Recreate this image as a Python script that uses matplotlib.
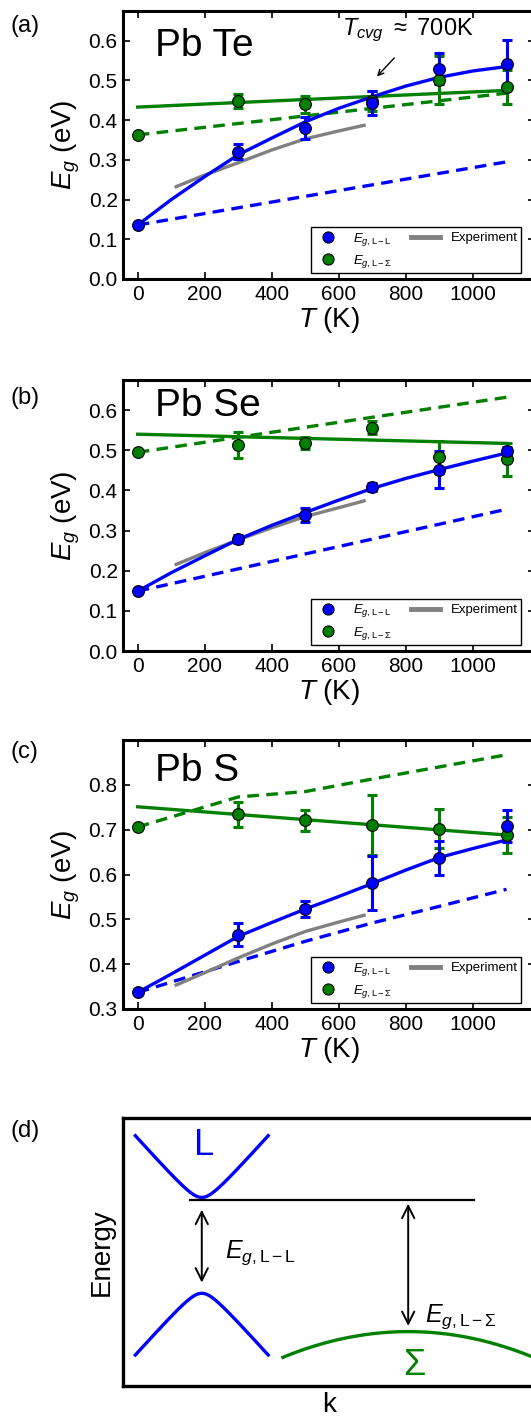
import numpy as np
import matplotlib
matplotlib.use("Agg")
import matplotlib.pyplot as plt
from matplotlib.lines import Line2D

plt.rcParams['font.family'] = ['Liberation Sans', 'DejaVu Sans']
plt.rcParams['mathtext.fontset'] = 'custom'
plt.rcParams['mathtext.rm'] = 'Liberation Sans'
plt.rcParams['mathtext.it'] = 'Liberation Sans:italic'

BLUE = '#0000ff'
GREEN = '#008000'
GRAY = '#808080'

# temperatures of the computed points (K)
T_pts = [0, 300, 500, 700, 900, 1100]
# fit-curve temperatures
T_fit = [0, 100, 200, 300, 400, 500, 600, 700, 800, 900, 1000, 1100]
T_lin = [0, 1100]
T_exp = [110, 200, 300, 400, 500, 600, 680]

# ---- PbTe ----
te_LL = [0.136, 0.321, 0.381, 0.443, 0.530, 0.541]
te_LL_err = [0.0, 0.02, 0.028, 0.03, 0.04, 0.06]
te_LS = [0.363, 0.448, 0.440, 0.449, 0.501, 0.484]
te_LS_err = [0.0, 0.017, 0.022, 0.025, 0.06, 0.043]
te_LL_fit = [0.136, 0.200, 0.258, 0.313, 0.355, 0.396, 0.430, 0.459, 0.486, 0.508, 0.524, 0.535]
te_LS_fit = [0.433, 0.475]
te_LL_dash = [0.136, 0.295]
te_LS_dash = [0.363, 0.468]
te_exp = [0.231, 0.262, 0.293, 0.325, 0.353, 0.373, 0.388]

# ---- PbSe ----
se_LL = [0.149, 0.278, 0.338, 0.408, 0.452, 0.498]
se_LL_err = [0.0, 0.01, 0.017, 0.01, 0.045, 0.01]
se_LS = [0.495, 0.513, 0.518, 0.556, 0.483, 0.477]
se_LS_err = [0.0, 0.032, 0.016, 0.016, 0.04, 0.04]
se_LL_fit = [0.149, 0.195, 0.237, 0.278, 0.313, 0.345, 0.376, 0.405, 0.430, 0.452, 0.473, 0.493]
se_LS_fit = [0.540, 0.517]
se_LL_dash = [0.149, 0.353]
se_LS_dash = [0.495, 0.632]
se_exp = [0.214, 0.245, 0.277, 0.307, 0.335, 0.357, 0.375]

# ---- PbS ----
s_LL = [0.337, 0.466, 0.523, 0.581, 0.637, 0.708]
s_LL_err = [0.0, 0.025, 0.017, 0.061, 0.038, 0.035]
s_LS = [0.706, 0.734, 0.721, 0.711, 0.702, 0.688]
s_LS_err = [0.0, 0.027, 0.023, 0.067, 0.043, 0.04]
s_LL_fit = [0.337, 0.378, 0.420, 0.462, 0.493, 0.523, 0.551, 0.580, 0.610, 0.638, 0.658, 0.677]
s_LS_fit = [0.751, 0.688]
T_sdash = [0, 300, 500, 700, 900, 1100]
s_LL_dash = [0.337, 0.406, 0.451, 0.492, 0.529, 0.567]
s_LS_dash = [0.706, 0.773, 0.785, 0.813, 0.840, 0.867]
s_exp = [0.352, 0.381, 0.414, 0.445, 0.473, 0.494, 0.510]

panels = [
    dict(tag='(a)', name='Pb Te', LL=te_LL, LLe=te_LL_err, LS=te_LS, LSe=te_LS_err,
         LLfit=(T_fit, te_LL_fit), LSfit=(T_lin, te_LS_fit),
         LLdash=(T_lin, te_LL_dash), LSdash=(T_lin, te_LS_dash), exp=te_exp,
         ylim=(0.0, 0.675), yticks=np.arange(0.0, 0.61, 0.1), box=(11, 279),
         name_y=0.935, tag_y=15),
    dict(tag='(b)', name='Pb Se', LL=se_LL, LLe=se_LL_err, LS=se_LS, LSe=se_LS_err,
         LLfit=(T_fit, se_LL_fit), LSfit=(T_lin, se_LS_fit),
         LLdash=(T_lin, se_LL_dash), LSdash=(T_lin, se_LS_dash), exp=se_exp,
         ylim=(0.0, 0.675), yticks=np.arange(0.0, 0.61, 0.1), box=(380, 651),
         name_y=0.97, tag_y=387),
    dict(tag='(c)', name='Pb S', LL=s_LL, LLe=s_LL_err, LS=s_LS, LSe=s_LS_err,
         LLfit=(T_fit, s_LL_fit), LSfit=(T_lin, s_LS_fit),
         LLdash=(T_sdash, s_LL_dash), LSdash=(T_sdash, s_LS_dash), exp=s_exp,
         ylim=(0.3, 0.9), yticks=np.arange(0.3, 0.81, 0.1), box=(740, 1009),
         name_y=0.95, tag_y=741),
]

W, H = 531, 1418
fig = plt.figure(figsize=(W / 100, H / 100), dpi=100)
AX_LEFT = 123.3 / W
AX_W = (535 - 123.3) / W

lw = 2.4
dash = (0, (3.5, 2.2))

for p in panels:
    top, bot = p['box']
    ax = fig.add_axes([AX_LEFT, 1 - bot / H, AX_W, (bot - top) / H])
    ax.plot(*p['LLdash'], color=BLUE, lw=lw, ls=dash)
    ax.plot(*p['LSdash'], color=GREEN, lw=lw, ls=dash)
    ax.plot(T_exp, p['exp'], color=GRAY, lw=lw, solid_capstyle='butt')
    ax.plot(*p['LSfit'], color=GREEN, lw=lw)
    ax.plot(*p['LLfit'], color=BLUE, lw=lw)
    ax.errorbar(T_pts, p['LS'], yerr=p['LSe'], fmt='none', ecolor=GREEN,
                elinewidth=2.2, capsize=3.5, capthick=2.2)
    ax.errorbar(T_pts, p['LL'], yerr=p['LLe'], fmt='none', ecolor=BLUE,
                elinewidth=2.2, capsize=3.5, capthick=2.2)
    ax.plot(T_pts, p['LS'], 'o', color=GREEN, mec='k', mew=0.8, ms=8.5, zorder=5)
    ax.plot(T_pts, p['LL'], 'o', color=BLUE, mec='k', mew=0.8, ms=8.5, zorder=5)

    ax.set_xlim(-43, 1185)
    ax.set_ylim(*p['ylim'])
    ax.set_xticks([0, 200, 400, 600, 800, 1000])
    ax.set_yticks(p['yticks'])
    ax.set_yticklabels(['%.1f' % v for v in p['yticks']])
    ax.tick_params(direction='in', top=True, right=True, length=5, width=1.2,
                   labelsize=15, pad=4)
    for s in ax.spines.values():
        s.set_linewidth(2.2)
    ax.set_xlabel(r'$T$ (K)', fontsize=20, labelpad=1)
    ax.set_ylabel(r'$E_g$ (eV)', fontsize=20, labelpad=5)
    ax.text(0.078, p['name_y'], p['name'], transform=ax.transAxes,
            fontsize=28, va='top', ha='left')
    fig.text(10 / W, 1 - p['tag_y'] / H, p['tag'], fontsize=17, va='top', ha='left')

    hands = [Line2D([], [], ls='none', marker='o', color=BLUE, mec='k', mew=0.8, ms=8),
             Line2D([], [], ls='none', marker='o', color=GREEN, mec='k', mew=0.8, ms=8),
             Line2D([], [], color=GRAY, lw=3.5)]
    labs = [r'$E_{g\mathrm{,L-L}}$', r'$E_{g\mathrm{,L-\Sigma}}$', 'Experiment']
    leg = ax.legend(hands, labs, ncol=2, loc='lower right',
                    bbox_to_anchor=(0.966, 0.022), borderaxespad=0,
                    fontsize=9.5, fancybox=False, framealpha=1, edgecolor='k',
                    handlelength=2.2, columnspacing=1.4, handletextpad=0.8,
                    borderpad=0.25, labelspacing=0.4)
    leg.get_frame().set_linewidth(1.0)

    if p['tag'] == '(a)':
        ax.annotate('', xy=(708, 0.505), xytext=(771, 0.562),
                    arrowprops=dict(arrowstyle='->', color='k', lw=1.0))
        ax.text(610, 0.615, r'$T_{cvg}$ $\approx$ 700K', fontsize=17,
                ha='left', va='baseline')

# ---- (d) band schematic, arbitrary units ----
k_L = 0.1906          # L valley position
Ec_L = 0.7036         # L conduction minimum
Ev_L = 0.346          # L valence maximum
dk_L = 0.1614         # half width of L bands
band_d = 0.05         # rounding of L bands
band_s = 1.709        # slope of L bands
k_S = 0.692           # Sigma valley position
Ev_S = 0.203          # Sigma valence maximum
k_S_start = 0.3877
curv_S = 1.037
ref_k = (0.163, 0.852)   # reference level extent
ref_E = 0.6936
arrow1_E = (0.6575, 0.386)
arrow2_E = (0.680, 0.224)

top, bot = 1118, 1386
axd = fig.add_axes([AX_LEFT, 1 - bot / H, AX_W, (bot - top) / H])
axd.set_xlim(0, 1)
axd.set_ylim(0, 1)
axd.set_xticks([])
axd.set_yticks([])
for s in axd.spines.values():
    s.set_linewidth(2.4)

kk = np.linspace(k_L - dk_L, k_L + dk_L, 200)
shape = np.sqrt(band_d ** 2 + (band_s * (kk - k_L)) ** 2) - band_d
axd.plot(kk, Ec_L + shape, color=BLUE, lw=2.4)
axd.plot(kk, Ev_L - shape, color=BLUE, lw=2.4)
ks = np.linspace(k_S_start, 1.05, 200)
axd.plot(ks, Ev_S - curv_S * (ks - k_S) ** 2, color=GREEN, lw=2.4, clip_on=True)
axd.plot(ref_k, [ref_E, ref_E], color='k', lw=1.6)
axd.annotate('', xy=(k_L, arrow1_E[0]), xytext=(k_L, arrow1_E[1]),
             arrowprops=dict(arrowstyle='<->', color='k', lw=1.4,
                             mutation_scale=22, shrinkA=0, shrinkB=0))
axd.annotate('', xy=(k_S, arrow2_E[0]), xytext=(k_S, arrow2_E[1]),
             arrowprops=dict(arrowstyle='<->', color='k', lw=1.4,
                             mutation_scale=22, shrinkA=0, shrinkB=0))
axd.text(0.246, 0.496, r'$E_{g\mathrm{,L-L}}$', fontsize=18, va='center', ha='left')
axd.text(0.732, 0.26, r'$E_{g\mathrm{,L-\Sigma}}$', fontsize=18, va='center', ha='left')
axd.text(0.172, 0.863, 'L', color=BLUE, fontsize=26, va='baseline', ha='left')
axd.text(0.680, 0.041, r'$\Sigma$', color=GREEN, fontsize=26, va='baseline', ha='left')
axd.set_ylabel('Energy', fontsize=20, labelpad=6)
axd.set_xlabel('k', fontsize=20, labelpad=4)
fig.text(10 / W, 1 - 1120 / H, '(d)', fontsize=17, va='top', ha='left')

fig.savefig('out.png', dpi=100)
